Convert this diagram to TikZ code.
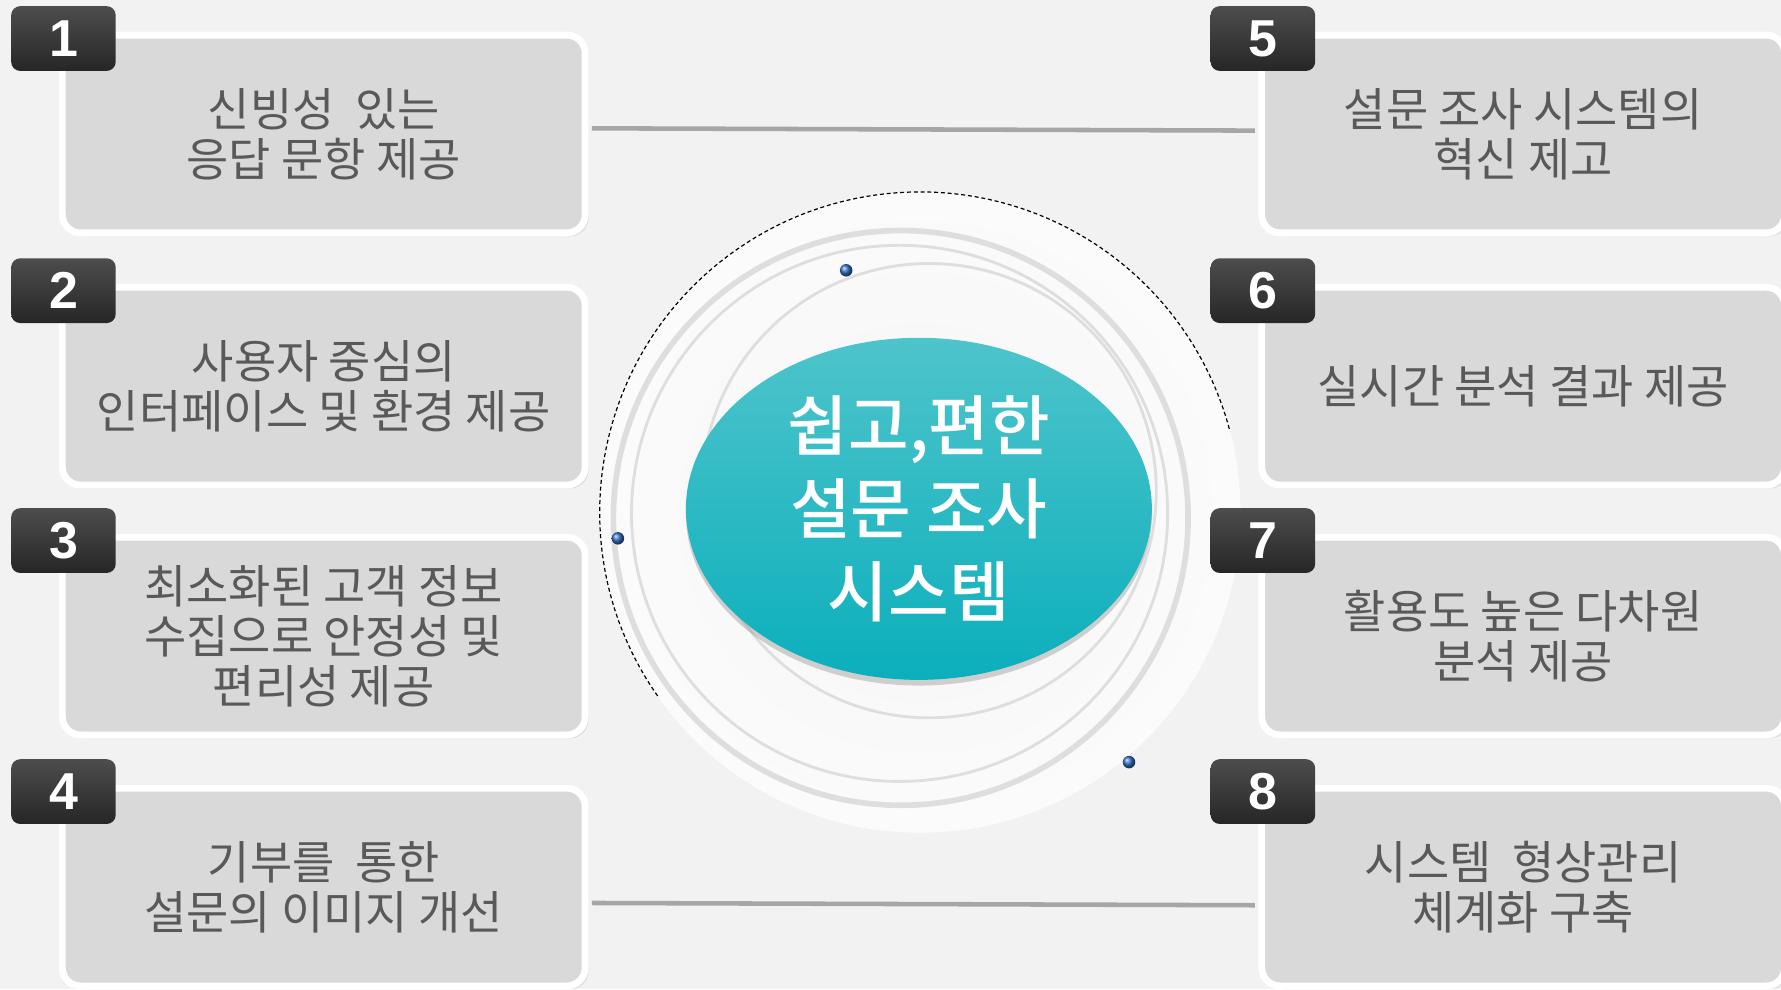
\documentclass[tikz,border=0pt]{standalone}
\usepackage{fontspec}
\setmainfont{Noto Sans CJK KR}
\newfontfamily\corefont{Noto Sans CJK KR}[UprightFont=* Medium]
\newfontfamily\numfont{Liberation Sans}
\usetikzlibrary{calc}
\usetikzlibrary{shapes.geometric}
\usetikzlibrary{shadows}

\definecolor{bggray}{HTML}{F2F2F2}
\definecolor{boxfill}{HTML}{D9D9D9}
\definecolor{boxtext}{HTML}{595959}
\definecolor{ringgray}{HTML}{DEDEDE}
\definecolor{linegray}{HTML}{A6A6A6}
\definecolor{tealtop}{HTML}{4EC4CB}
\definecolor{tealbot}{HTML}{0BAFBC}
\definecolor{badgetop}{HTML}{4D4D4D}
\definecolor{badgebot}{HTML}{262626}
\definecolor{beadblue}{HTML}{2F6FC4}

\begin{document}
\begin{tikzpicture}[x=0.01cm, y=0.01cm,
  infobox/.style={draw=white, line width=0.06cm, fill=boxfill, rounded corners=0.16cm,
    minimum width=4.6cm, minimum height=1.74cm, align=center, text=boxtext,
    font=\fontsize{11.5}{12.5}\selectfont,
    drop shadow={shadow xshift=0.03cm, shadow yshift=-0.03cm, opacity=0.18}},
  badge/.style={top color=badgetop, bottom color=badgebot, rounded corners=0.08cm,
    minimum width=0.92cm, minimum height=0.57cm, inner sep=0pt, text=white,
    font=\numfont\bfseries\fontsize{13}{13}\selectfont},
  ring/.style={draw=ringgray, line width=0.025cm},
  bead/.style={ball color=beadblue}]

\useasboundingbox (0,0) rectangle (1568,871);
\clip (0,0) rectangle (1568,871);
\fill[bggray] (0,0) rectangle (1568,871);

% centre disc with rings
\coordinate (hub) at (810,420);
\fill[white] (hub) circle[radius=282];
\begin{scope}
  \clip (hub) circle[radius=282];
  \shade[inner color=black!4, outer color=white] (hub) circle[radius=460];
\end{scope}
\draw[black, line width=0.3pt, dash pattern=on 1pt off 0.7pt] ($(hub)+(215:282)$) arc[start angle=215, end angle=15, radius=282];

\draw[ring, line width=0.05cm] (793,415) circle[radius=253];
\draw[ring] (792,419) circle[radius=236];
\draw[ring] (818,439) circle[radius=200];

\shade[bead] (745,633) circle[radius=5.5];
\shade[bead] (544,397) circle[radius=5.5];
\shade[bead] (994,200) circle[radius=5.5];

\node[ellipse, minimum width=4.1cm, minimum height=3.01cm, inner sep=0pt,
  top color=tealtop, bottom color=tealbot, text=white, align=center,
  font=\corefont\fontsize{16.5}{20.8}\selectfont,
  drop shadow={shadow xshift=0cm, shadow yshift=-0.05cm, opacity=0.35}]
  (core) at (809,423) {쉽고,편한\\설문 조사\\시스템};

% numbered boxes
\foreach \n/\x/\y/\txt in {
  1/285/753/{신빙성\ \ 있는\\응답 문항 제공},
  2/285/531/{사용자 중심의\\인터페이스 및 환경 제공},
  3/285/311/{최소화된 고객 정보\\수집으로 안정성 및\\편리성 제공},
  4/285/90/{기부를\ \ 통한\\설문의 이미지 개선},
  5/1341/753/{설문 조사 시스템의\\혁신 제고},
  6/1341/531/{실시간 분석 결과 제공},
  7/1341/311/{활용도 높은 다차원\\분석 제공},
  8/1341/90/{시스템\ \ 형상관리\\체계화 구축}} {
  \node[infobox] (b\n) at (\x,\y) {\txt};
  \node[badge] (n\n) at ($(b\n.north west)+(4,-6)$) {\n};
};

\draw[linegray, line width=0.04cm] ([xshift=0.03cm, yshift=0.05cm]b1.east) -- ([xshift=-0.03cm, yshift=0.03cm]b5.west);
\draw[linegray, line width=0.04cm] ([xshift=0.03cm, yshift=-0.14cm]b4.east) -- ([xshift=-0.03cm, yshift=-0.16cm]b8.west);
\end{tikzpicture}
\end{document}
